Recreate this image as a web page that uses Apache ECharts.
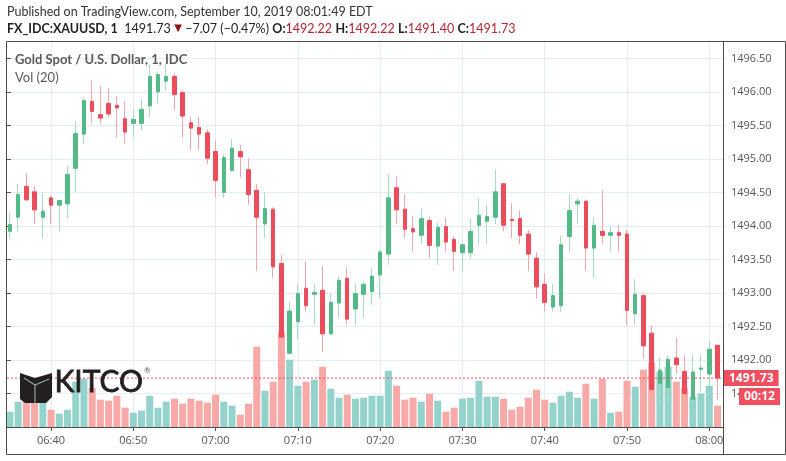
<!DOCTYPE html>
<html><head><meta charset="utf-8">
<script src="https://cdn.jsdelivr.net/npm/echarts@6/dist/echarts.min.js"></script>
<style>html,body{margin:0;padding:0;background:#fff}#c{width:786px;height:461px}</style>
</head><body><div id="c"></div>
<script>
const times = ["06:35","06:36","06:37","06:38","06:39","06:40","06:41","06:42","06:43","06:44","06:45","06:46","06:47","06:48","06:49",
"06:50","06:51","06:52","06:53","06:54","06:55","06:56","06:57","06:58","06:59",
"07:00","07:01","07:02","07:03","07:04","07:05","07:06","07:07","07:08","07:09",
"07:10","07:11","07:12","07:13","07:14","07:15","07:16","07:17","07:18","07:19",
"07:20","07:21","07:22","07:23","07:24","07:25","07:26","07:27","07:28","07:29",
"07:30","07:31","07:32","07:33","07:34","07:35","07:36","07:37","07:38","07:39",
"07:40","07:41","07:42","07:43","07:44","07:45","07:46","07:47","07:48","07:49",
"07:50","07:51","07:52","07:53","07:54","07:55","07:56","07:57","07:58","07:59",
"08:00","08:01"];
const open = [1493.92,1494.13,1494.59,1494.51,1494.13,1494.42,1494.31,1494.33,1494.86,1495.37,
1495.86,1495.66,1495.83,1495.80,1495.60,1495.53,1495.53,1495.79,1496.00,1496.16,
1496.23,1495.99,1495.54,1495.47,1495.39,1495.11,1494.50,1494.83,1495.11,1494.84,
1494.53,1494.03,1494.25,1493.44,1492.10,1492.57,1493.07,1492.98,1493.04,1492.39,
1492.85,1493.22,1492.76,1492.98,1493.02,1493.27,1493.58,1494.57,1494.25,1493.96,
1493.86,1494.08,1493.70,1493.99,1493.80,1493.60,1493.60,1494.01,1494.07,1494.13,
1494.63,1494.10,1494.11,1493.88,1493.52,1493.13,1492.79,1492.81,1493.84,1494.33,
1494.37,1493.67,1493.92,1493.86,1493.90,1493.88,1492.69,1492.96,1492.40,1491.65,
1491.59,1492.03,1491.83,1491.41,1491.86,1491.79,1492.22];
const high = [1494.20,1494.62,1494.79,1494.60,1494.50,1494.45,1494.39,1494.89,1495.56,1495.92,
1496.17,1496.09,1496.06,1495.93,1495.86,1495.74,1495.89,1496.41,1496.29,1496.42,
1496.27,1496.02,1495.63,1495.62,1495.44,1495.27,1495.07,1495.30,1495.21,1495.01,
1494.63,1494.50,1494.28,1493.57,1492.87,1493.13,1493.47,1493.14,1493.40,1492.99,
1493.25,1493.38,1493.14,1493.16,1493.37,1493.64,1494.77,1494.74,1494.48,1494.14,
1494.25,1494.14,1494.05,1494.13,1493.84,1493.75,1494.11,1494.41,1494.31,1494.84,
1494.64,1494.34,1494.23,1493.94,1493.61,1493.29,1493.14,1493.86,1494.48,1494.42,
1494.38,1494.13,1494.53,1494.00,1494.01,1493.94,1493.21,1493.01,1492.52,1492.03,
1492.07,1492.34,1492.07,1492.07,1492.07,1492.28,1492.22];
const low = [1493.81,1493.92,1494.37,1494.03,1493.82,1494.03,1493.92,1494.12,1494.51,1495.22,
1495.53,1495.53,1495.62,1495.32,1495.22,1495.32,1495.43,1495.62,1495.83,1496.02,
1495.73,1495.32,1495.13,1495.13,1494.92,1494.42,1494.42,1494.81,1494.72,1494.32,
1493.33,1493.82,1493.22,1492.33,1492.09,1492.31,1492.72,1492.52,1492.12,1492.37,
1492.63,1492.52,1492.52,1492.63,1492.82,1492.92,1493.42,1494.02,1493.82,1493.62,
1493.73,1493.52,1493.42,1493.62,1493.33,1493.33,1493.52,1493.73,1493.73,1494.03,
1493.92,1493.82,1493.73,1493.33,1492.92,1492.72,1492.72,1492.72,1493.62,1494.03,
1493.33,1493.22,1493.73,1493.62,1493.62,1492.52,1492.52,1492.02,1491.55,1491.31,
1491.31,1491.80,1491.45,1491.35,1491.53,1491.60,1491.40];
const close = [1494.02,1494.47,1494.39,1494.24,1494.22,1494.31,1494.38,1494.77,1495.38,1495.87,
1495.71,1495.61,1495.67,1495.76,1495.40,1495.59,1495.74,1496.23,1496.26,1496.23,
1495.96,1495.64,1495.46,1495.37,1495.01,1494.68,1495.02,1495.16,1495.03,1494.47,
1494.13,1494.26,1493.39,1492.34,1492.73,1492.99,1492.81,1493.01,1492.39,1492.86,
1493.19,1492.61,1492.99,1493.13,1493.25,1493.61,1494.42,1494.24,1493.95,1493.91,
1494.11,1493.71,1493.98,1493.76,1493.62,1493.72,1493.92,1494.16,1494.14,1494.51,
1494.01,1494.08,1493.86,1493.58,1493.09,1492.86,1492.96,1493.72,1494.23,1494.37,
1493.67,1494.01,1493.86,1493.90,1493.86,1492.74,1492.98,1492.21,1491.56,1491.85,
1492.01,1491.93,1491.50,1491.82,1491.88,1492.16,1491.73];
const volume = [15.3,25.3,32.3,30.7,29,17.3,13.3,17.3,45.3,48.3,
39,27.3,26.3,31.3,19.3,14.3,16.3,31.3,19.3,25.3,
28.3,23.3,28.3,26.3,24.3,32.3,25.3,21.3,12.3,23.3,
80.3,36.3,45.3,95.3,67.3,41.3,45.3,47.3,60.3,38.3,
29.3,32.3,28.3,29.3,31.3,31.3,56.3,41.3,27.3,29.3,
25.3,33.3,26.3,15.3,19.3,28.3,29.3,46.3,30.3,30.3,
28.3,17.3,20.3,29.3,37.3,27.3,24.3,31.3,35.3,29.3,
43.3,28.3,48.3,14.3,15.3,46.3,40.3,57.3,64.3,55.3,
60.3,45.3,39.3,30.3,33.3,41.3,21.3];
const changeText = "\u22127.07 (\u22120.47%)";

const UP='#53b987', DOWN='#eb4d5c', UPW='#a6dcc2', DOWNW='#f5a4ad', UPV='#93d3cc', DOWNV='#f7a9a8';
const GRID='#e3edf3', AX='#555555', FRAME='#4d4d4d', REDTXT='#b72330', LBL='#ef4f5e';
const n = times.length, last = close[n-1];
const wickData = times.map((t,i)=>[open[i],close[i],low[i],high[i]]);
const bodyData = times.map((t,i)=>[open[i],close[i],Math.min(open[i],close[i]),Math.max(open[i],close[i])]);
const volData = volume.map((v,i)=>({value:v,itemStyle:{color: close[i]>=open[i]?UPV:DOWNV}}));
const labelIdx = (i)=> i%10===5;
const F = 'Open Sans';

const chart = echarts.init(document.getElementById('c'), null, {renderer:'canvas'});
chart.setOption({
  animation:false,
  backgroundColor:'#ffffff',
  grid:[
    {left:7, right:63, top:41, bottom:34},
    {left:9.9, right:68.5, top:41, bottom:34}
  ],
  xAxis:[
    {gridIndex:0, type:'value', min:0, max:1, show:false},
    {gridIndex:1, type:'category', data:times, boundaryGap:false,
      axisLine:{show:false},
      axisTick:{show:true, interval:labelIdx, length:4, lineStyle:{color:AX}},
      axisLabel:{interval:labelIdx, color:AX, fontSize:11, margin:8, fontFamily:F},
      splitLine:{show:true, interval:labelIdx, lineStyle:{color:GRID, width:1}}}
  ],
  yAxis:[
    {gridIndex:0, type:'value', position:'right', min:1491, max:1496.76, interval:0.5,
      axisLine:{show:false},
      axisTick:{show:true, length:4, lineStyle:{color:AX}},
      axisLabel:{showMinLabel:false, showMaxLabel:false, formatter:(v)=>v.toFixed(2), color:AX, fontSize:11, margin:8, fontFamily:F},
      splitLine:{show:true, lineStyle:{color:GRID, width:1}}},
    {gridIndex:1, type:'value', min:1491, max:1496.76, show:false},
    {gridIndex:1, type:'value', min:0, max:386, show:false}
  ],
  series:[
    {type:'bar', xAxisIndex:1, yAxisIndex:2, data:volData, barWidth:7, clip:false, silent:true},
    {type:'candlestick', xAxisIndex:1, yAxisIndex:1, data:wickData, barWidth:1, clip:false,
      itemStyle:{color:UPW, color0:DOWNW, borderColor:UPW, borderColor0:DOWNW, borderWidth:1}},
    {type:'candlestick', xAxisIndex:1, yAxisIndex:1, data:bodyData, barWidth:4, clip:false,
      itemStyle:{color:UP, color0:DOWN, borderColor:UP, borderColor0:DOWN, borderWidth:1}},
    {type:'line', xAxisIndex:0, yAxisIndex:0, data:[[0,last],[1,last]], symbol:'none', z:5,
      lineStyle:{type:[2,2], color:LBL, width:1},
      endLabel:{show:true, formatter:last.toFixed(2), backgroundColor:LBL, color:'#fff', fontWeight:'bold',
        fontSize:12, fontFamily:F, padding:[2,5,2,5], distance:1}}
  ],
  graphic:[
    {type:'text', left:7, top:5, z:100, style:{text:'Published on TradingView.com, September 10, 2019 08:01:49 EDT', fill:'#333', font:'12.5px Lato'}},
    {type:'text', left:7, top:22, z:100, style:{
      text:'{b|FX_IDC:XAUUSD, 1}  {n|'+last.toFixed(2)+'} {t|\u25BC} {n|'+changeText+'} {b|O:}{r|'+open[n-1].toFixed(2)+'} {b|H:}{r|'+high[n-1].toFixed(2)+'} {b|L:}{r|'+low[n-1].toFixed(2)+'} {b|C:}{r|'+close[n-1].toFixed(2)+'}',
      rich:{
        b:{fontFamily:'Lato', fontSize:12.5, fontWeight:'bold', fill:'#222'},
        n:{fontFamily:'Lato', fontSize:12.5, fill:'#222'},
        t:{fontFamily:'DejaVu Sans', fontSize:10, fill:'#8b1010'},
        r:{fontFamily:'Lato', fontSize:12.5, fill:REDTXT}
      }}},
    {type:'text', left:15, top:53, z:100, style:{text:'Gold Spot / U.S. Dollar, 1, IDC', fill:'#5a5a5a', font:'bold 13px Lato'}},
    {type:'text', left:15, top:71, z:100, style:{text:'Vol (20)', fill:'#5a5a5a', font:'13px Lato'}},
    // frame
    {type:'line', z:100, shape:{x1:6.5,y1:41.5,x2:785.5,y2:41.5}, style:{stroke:FRAME, lineWidth:1}},
    {type:'line', z:100, shape:{x1:6.5,y1:41.5,x2:6.5,y2:454.5}, style:{stroke:FRAME, lineWidth:1}},
    {type:'line', z:100, shape:{x1:6.5,y1:454.5,x2:785.5,y2:454.5}, style:{stroke:FRAME, lineWidth:1}},
    {type:'line', z:100, shape:{x1:785.5,y1:41.5,x2:785.5,y2:454.5}, style:{stroke:FRAME, lineWidth:1}},
    {type:'line', z:100, shape:{x1:723.5,y1:41.5,x2:723.5,y2:454.5}, style:{stroke:FRAME, lineWidth:1}},
    {type:'line', z:100, shape:{x1:6.5,y1:427.5,x2:723.5,y2:427.5}, style:{stroke:FRAME, lineWidth:1}},
    // countdown box
    {type:'rect', z:100, shape:{x:739, y:388, width:41, height:17}, style:{fill:LBL}},
    {type:'text', z:101, x:759.5, y:396.5, style:{text:'00:12', fill:'#fff', font:'bold 12px "Open Sans"', align:'center', verticalAlign:'middle'}},
    // KITCO logo
    {type:'polygon', z:100, shape:{points:[[20,373],[35,378],[52,373],[52,397],[46,403],[25,403],[20,399]]}, style:{fill:'#231f20'}},
    {type:'polyline', z:101, shape:{points:[[24,378],[35,385],[49,379]]}, style:{stroke:'#8fa3a0', lineWidth:1.2, fill:null}},
    {type:'polyline', z:101, shape:{points:[[35,385],[35,403]]}, style:{stroke:'#8fa3a0', lineWidth:1.2, fill:null}},
    {type:'text', z:100, left:54, top:367, style:{text:'KITCO', fill:'#231f20', stroke:'#231f20', lineWidth:0.8, font:'30px Lato'}},
    {type:'text', z:100, left:144, top:366, style:{text:'\u00AE', fill:'#555', font:'8px Lato'}}
  ]
});
</script></body></html>
